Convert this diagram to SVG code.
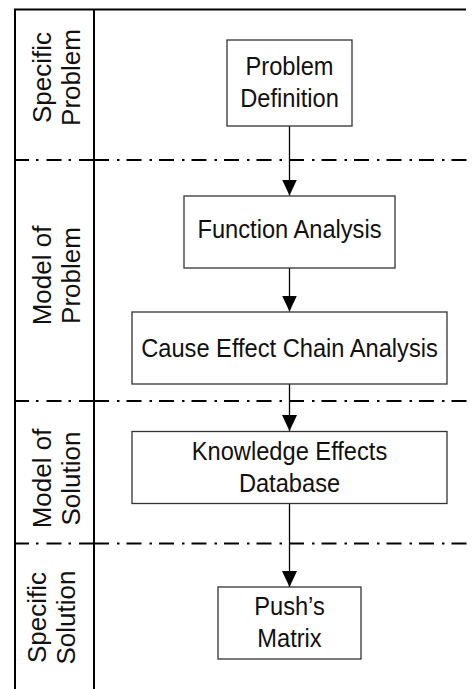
<svg xmlns="http://www.w3.org/2000/svg" width="476" height="689" viewBox="0 0 476 689">
<style>
.frame{stroke:#000;stroke-width:2;fill:none}
.sep{stroke:#000;stroke-width:2;fill:none;stroke-dasharray:15 8 2.5 7}
.box{fill:#fff;stroke:#333;stroke-width:1.3}
.t{font-family:"Liberation Sans",Arial,sans-serif;font-size:26px;fill:#111;text-anchor:middle}
.lane{font-family:"Liberation Sans",Arial,sans-serif;font-size:26px;fill:#111;text-anchor:middle}
.conn{stroke:#000;stroke-width:1.3;fill:none;marker-end:url(#ah)}
</style>
<defs>
<marker id="ah" markerUnits="userSpaceOnUse" markerWidth="16" markerHeight="15" refX="16" refY="7.5" orient="auto">
<path d="M0,0 L16,7.5 L0,15 z" fill="#000"/>
</marker>
</defs>
<rect width="476" height="689" fill="#fff"/>
<g id="frame">
<line class="frame" x1="14" y1="9.5" x2="466" y2="9.5"/>
<line class="frame" x1="15" y1="9.5" x2="15" y2="689"/>
<line class="frame" x1="94" y1="9.5" x2="94" y2="689"/>
<line class="sep" x1="94" y1="160" x2="15" y2="160"/>
<line class="sep" x1="94" y1="160" x2="467" y2="160"/>
<line class="sep" x1="94" y1="401" x2="15" y2="401"/>
<line class="sep" x1="94" y1="401" x2="467" y2="401"/>
<line class="sep" x1="94" y1="543.5" x2="15" y2="543.5"/>
<line class="sep" x1="94" y1="543.5" x2="467" y2="543.5"/>
</g>
<g id="lane-specific-problem">
<text class="lane" transform="translate(50.5,77.5) rotate(-90)">Specific</text>
<text class="lane" transform="translate(80,77.5) rotate(-90)">Problem</text>
</g>
<g id="lane-model-problem">
<text class="lane" transform="translate(50.5,275.5) rotate(-90)">Model of</text>
<text class="lane" transform="translate(80,275.5) rotate(-90)">Problem</text>
</g>
<g id="lane-model-solution">
<text class="lane" transform="translate(50.5,478.5) rotate(-90)">Model of</text>
<text class="lane" transform="translate(80,478.5) rotate(-90)">Solution</text>
</g>
<g id="lane-specific-solution">
<text class="lane" transform="translate(45.5,617.5) rotate(-90)">Specific</text>
<text class="lane" transform="translate(74.5,617.5) rotate(-90)">Solution</text>
</g>
<g id="connectors">
<line class="conn" x1="289.5" y1="126" x2="289.5" y2="195.5"/>
<line class="conn" x1="289.5" y1="268" x2="289.5" y2="311.5"/>
<line class="conn" x1="289.5" y1="384" x2="289.5" y2="431"/>
<line class="conn" x1="289.5" y1="503.5" x2="289.5" y2="587"/>
</g>
<g id="problem-definition">
<rect class="box" x="227" y="40" width="125" height="86"/>
<text class="t" transform="translate(289.5,75.3) scale(0.91,1)">Problem</text>
<text class="t" transform="translate(289.5,106.8) scale(0.91,1)">Definition</text>
</g>
<g id="function-analysis">
<rect class="box" x="184" y="196" width="211" height="72"/>
<text class="t" transform="translate(289.5,238) scale(0.91,1)">Function Analysis</text>
</g>
<g id="cause-effect-chain-analysis">
<rect class="box" x="132" y="312" width="315" height="72"/>
<text class="t" transform="translate(289.5,356.5) scale(0.91,1)">Cause Effect Chain Analysis</text>
</g>
<g id="knowledge-effects-database">
<rect class="box" x="132" y="431.5" width="315" height="72"/>
<text class="t" transform="translate(289.5,460) scale(0.91,1)">Knowledge Effects</text>
<text class="t" transform="translate(289.5,491.7) scale(0.91,1)">Database</text>
</g>
<g id="pushs-matrix">
<rect class="box" x="218" y="587" width="143" height="72"/>
<text class="t" transform="translate(289.5,615) scale(0.91,1)">Push’s</text>
<text class="t" transform="translate(289.5,647.3) scale(0.91,1)">Matrix</text>
</g>
</svg>
